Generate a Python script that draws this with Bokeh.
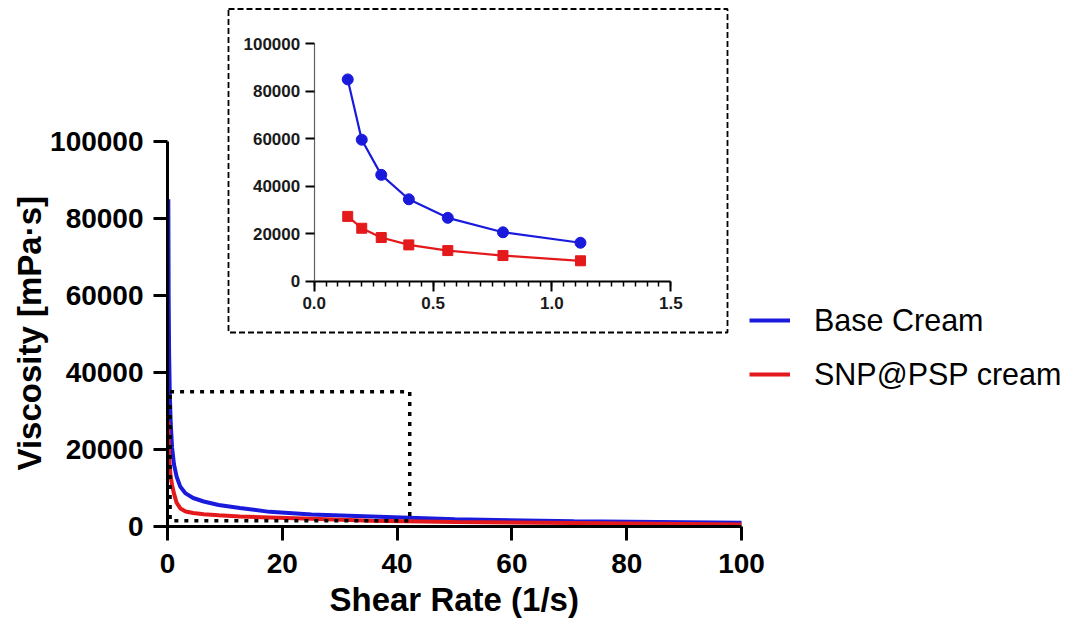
from bokeh.plotting import figure
from bokeh.models import (Range1d, LinearAxis, FixedTicker, BoxAnnotation, Title,
                          Legend, LegendItem, NumeralTickFormatter)
from bokeh.embed import file_html
from bokeh.resources import INLINE

# ---------------- data ----------------
shear_rate = [0.141, 0.2, 0.282, 0.398, 0.562, 0.794, 1.12, 1.58, 2.24, 3.16,
              4.47, 6.31, 8.91, 12.6, 17.8, 25.1, 35.5, 50.1, 70.8, 100.0]
base_cream = [85000, 59600, 44800, 34500, 26700, 20600, 16200, 13000, 10300, 8600,
              7400, 6500, 5600, 4800, 3800, 3100, 2600, 1900, 1350, 1000]
snp_cream = [27300, 22300, 18400, 15300, 12900, 10800, 8600, 6200, 4700, 3900,
             3500, 3200, 2900, 2600, 2350, 2000, 1500, 1150, 900, 550]
inset_points = 7  # the inset shows the first seven measurements

main_xticks = [0, 20, 40, 60, 80, 100]
main_yticks = [0, 20000, 40000, 60000, 80000, 100000]
inset_xticks = [0, 0.5, 1.0, 1.5]
inset_yticks = [0, 20000, 40000, 60000, 80000, 100000]
zoom_box = dict(left=0.45, right=42.2, bottom=1500, top=35000)

BLUE = "#1a1adc"
RED = "#e3191c"
FONT = "Liberation Sans"

# ---------------- layout (pixels) ----------------
W, H = 1076, 631
FL, FB = 167, 526                # frame left edge / bottom edge
PX_X, PX_Y = 574 / 100, 385 / 100000   # main scale (px per unit)
I_OX, I_OY = 313.7, 280.7        # inset origin in figure px
I_PX_X, I_PX_Y = 356.6 / 1.5, 237.4 / 100000  # inset scale

def ix(px):  # figure pixel -> inset x
    return (px - I_OX) / I_PX_X

def iy(py):  # figure pixel -> inset y
    return (I_OY - py) / I_PX_Y

p = figure(width=W, height=H, output_backend="svg", toolbar_location=None,
           x_range=Range1d(0, (W - FL) / PX_X), y_range=Range1d(0, FB / PX_Y),
           min_border_left=FL, min_border_right=0, min_border_top=0,
           min_border_bottom=H - FB)
p.outline_line_color = None
p.grid.visible = False
p.background_fill_color = "white"
p.extra_x_ranges = {"ix": Range1d(ix(FL), ix(W))}
p.extra_y_ranges = {"iy": Range1d(iy(FB), iy(0))}

# ---------------- main axes ----------------
xa = p.xaxis[0]
xa.bounds = (0, 100)
xa.ticker = FixedTicker(ticks=main_xticks, minor_ticks=[])
xa.major_label_standoff = 13
ya = p.yaxis[0]
ya.bounds = (0, 100000)
ya.ticker = FixedTicker(ticks=main_yticks, minor_ticks=[])
ya.formatter = NumeralTickFormatter(format="0")
ya.major_label_standoff = 10
for ax in (xa, ya):
    ax.axis_line_width = 3
    ax.axis_line_color = "black"
    ax.major_tick_line_width = 3
    ax.major_tick_out = 14
    ax.major_tick_in = 0
    ax.minor_tick_line_color = None
    ax.major_label_text_font = FONT
    ax.major_label_text_font_style = "bold"
    ax.major_label_text_font_size = "28px"
    ax.major_label_text_color = "black"

# axis titles (centred on the 0-100 span of the x axis, 0-100000 of the y axis)
p.add_layout(Title(text="Shear Rate (1/s)", align="left", offset=162,
                   vertical_align="top", standoff=10,
                   text_font=FONT, text_font_style="bold", text_font_size="33px",
                   text_color="black"), "below")
p.add_layout(Title(text="Viscosity [mPa·s]", align="left", offset=56,
                   vertical_align="bottom", standoff=0,
                   text_font=FONT, text_font_style="bold", text_font_size="33px",
                   text_color="black"), "left")

# ---------------- main curves ----------------
r_base = p.line(shear_rate, base_cream, line_color=BLUE, line_width=4)
r_snp = p.line(shear_rate, snp_cream, line_color=RED, line_width=4)

p.add_layout(BoxAnnotation(**zoom_box, fill_alpha=0, line_color="black", line_alpha=1,
                           line_width=3.5, line_dash="4 6"))

# ---------------- inset ----------------
p.add_layout(BoxAnnotation(left=ix(228), right=ix(727), top=iy(8.5), bottom=iy(332),
                           x_range_name="ix", y_range_name="iy",
                           fill_alpha=0, line_color="black", line_alpha=1,
                           line_width=1.8, line_dash="6 3"))

ixa = LinearAxis(x_range_name="ix", y_range_name="iy", fixed_location=0,
                 bounds=(0, 1.5),
                 ticker=FixedTicker(ticks=inset_xticks,
                                    minor_ticks=[round(0.05 * k, 2) for k in range(31)]),
                 formatter=NumeralTickFormatter(format="0.0"))
ixa.axis_line_width = 2
ixa.major_tick_out = 10
ixa.major_tick_in = 0
ixa.major_tick_line_width = 2
ixa.minor_tick_out = 5
ixa.minor_tick_in = 0
ixa.minor_tick_line_width = 1.5
ixa.major_label_standoff = 6
iya = LinearAxis(x_range_name="ix", y_range_name="iy", fixed_location=0,
                 bounds=(0, 100000),
                 ticker=FixedTicker(ticks=inset_yticks, minor_ticks=[]),
                 formatter=NumeralTickFormatter(format="0"))
iya.axis_line_width = 1.2
iya.axis_line_color = "#606060"
iya.major_tick_out = 9
iya.major_tick_in = 0
iya.major_tick_line_width = 2
iya.minor_tick_line_color = None
iya.major_label_standoff = 5
for ax in (ixa, iya):
    ax.major_label_text_font = FONT
    ax.major_label_text_font_style = "bold"
    ax.major_label_text_font_size = "17px"
    ax.major_label_text_color = "#1a1a1a"
p.add_layout(ixa, "below")
p.add_layout(iya, "left")

sx = shear_rate[:inset_points]
p.line(sx, base_cream[:inset_points], line_color=BLUE, line_width=2.2,
       x_range_name="ix", y_range_name="iy")
p.scatter(sx, base_cream[:inset_points], marker="circle", size=11, color=BLUE,
          x_range_name="ix", y_range_name="iy")
p.line(sx, snp_cream[:inset_points], line_color=RED, line_width=2.2,
       x_range_name="ix", y_range_name="iy")
p.scatter(sx, snp_cream[:inset_points], marker="square", size=10, color=RED,
          x_range_name="ix", y_range_name="iy")

# ---------------- legend ----------------
legend = Legend(items=[LegendItem(label="Base Cream", renderers=[r_base]),
                       LegendItem(label="SNP@PSP cream", renderers=[r_snp])],
                location=(582, 134.5), padding=0, margin=0, spacing=19,
                glyph_width=41, glyph_height=32, label_height=32, label_standoff=24,
                label_text_font=FONT, label_text_font_size="30.5px",
                label_text_color="black",
                border_line_color=None, background_fill_alpha=0)
p.add_layout(legend)

open("out.html", "w").write(file_html(p, INLINE))
